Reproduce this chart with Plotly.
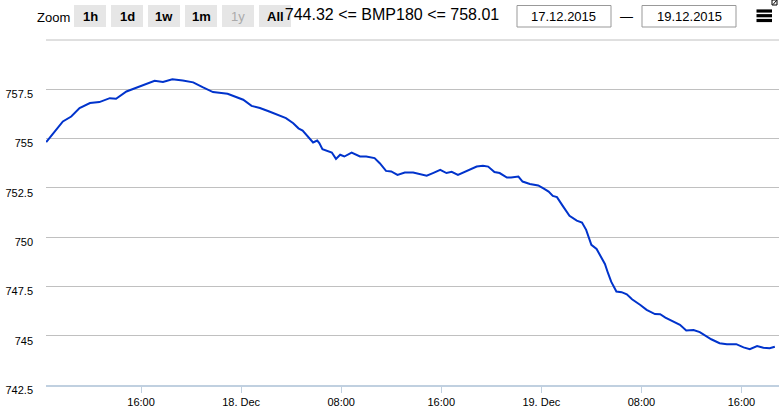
#!/usr/bin/env python
"""
BMP180 Luftdruck, 17.12.2015 - 19.12.2015
Nachbau eines Highstock-Diagramms mit plotly
"""
import plotly.graph_objects as go

zeit = [
    "2015-12-17 08:25", "2015-12-17 09:05", "2015-12-17 09:45", "2015-12-17 10:25",
    "2015-12-17 11:05", "2015-12-17 11:55", "2015-12-17 12:40", "2015-12-17 13:30",
    "2015-12-17 14:00", "2015-12-17 14:50", "2015-12-17 15:35", "2015-12-17 16:25",
    "2015-12-17 17:05", "2015-12-17 17:45", "2015-12-17 18:30", "2015-12-17 19:20",
    "2015-12-17 20:10", "2015-12-17 20:55", "2015-12-17 21:45", "2015-12-17 22:25",
    "2015-12-17 22:55", "2015-12-17 23:20", "2015-12-18 00:10", "2015-12-18 00:50",
    "2015-12-18 01:30", "2015-12-18 02:15", "2015-12-18 02:55", "2015-12-18 03:35",
    "2015-12-18 04:10", "2015-12-18 04:35", "2015-12-18 04:55", "2015-12-18 05:20",
    "2015-12-18 05:45", "2015-12-18 06:05", "2015-12-18 06:15", "2015-12-18 06:30",
    "2015-12-18 07:15", "2015-12-18 07:35", "2015-12-18 07:55", "2015-12-18 08:15",
    "2015-12-18 08:50", "2015-12-18 09:30", "2015-12-18 10:00", "2015-12-18 10:40",
    "2015-12-18 11:05", "2015-12-18 11:35", "2015-12-18 12:00", "2015-12-18 12:30",
    "2015-12-18 13:05", "2015-12-18 13:45", "2015-12-18 14:15", "2015-12-18 14:50",
    "2015-12-18 15:20", "2015-12-18 15:55", "2015-12-18 16:25", "2015-12-18 16:50",
    "2015-12-18 17:20", "2015-12-18 17:55", "2015-12-18 18:25", "2015-12-18 18:50",
    "2015-12-18 19:20", "2015-12-18 19:45", "2015-12-18 20:15", "2015-12-18 20:40",
    "2015-12-18 21:15", "2015-12-18 21:35", "2015-12-18 22:10", "2015-12-18 22:30",
    "2015-12-18 23:05", "2015-12-18 23:45", "2015-12-19 00:10", "2015-12-19 00:35",
    "2015-12-19 00:55", "2015-12-19 01:15", "2015-12-19 01:45", "2015-12-19 02:15",
    "2015-12-19 02:50", "2015-12-19 03:15", "2015-12-19 03:35", "2015-12-19 04:00",
    "2015-12-19 04:25", "2015-12-19 04:50", "2015-12-19 05:05", "2015-12-19 05:20",
    "2015-12-19 05:35", "2015-12-19 06:00", "2015-12-19 06:25", "2015-12-19 06:50",
    "2015-12-19 07:15", "2015-12-19 07:55", "2015-12-19 08:25", "2015-12-19 09:05",
    "2015-12-19 09:30", "2015-12-19 09:55", "2015-12-19 10:35", "2015-12-19 11:05",
    "2015-12-19 11:35", "2015-12-19 12:10", "2015-12-19 12:40", "2015-12-19 13:15",
    "2015-12-19 13:35", "2015-12-19 14:15", "2015-12-19 14:50", "2015-12-19 15:35",
    "2015-12-19 16:10", "2015-12-19 16:40", "2015-12-19 17:15", "2015-12-19 17:45",
    "2015-12-19 18:15", "2015-12-19 18:40",
]
druck = [
    754.82, 755.36, 755.87, 756.12, 756.55, 756.80, 756.85, 757.05,
    757.02, 757.39, 757.56, 757.76, 757.93, 757.87, 758.01, 757.95,
    757.85, 757.61, 757.36, 757.31, 757.27, 757.17, 756.97, 756.66,
    756.55, 756.37, 756.21, 756.04, 755.78, 755.52, 755.41, 755.10,
    754.80, 754.90, 754.77, 754.46, 754.29, 753.97, 754.18, 754.09,
    754.29, 754.09, 754.09, 754.01, 753.75, 753.36, 753.33, 753.16,
    753.28, 753.28, 753.21, 753.12, 753.25, 753.41, 753.25, 753.31,
    753.16, 753.33, 753.45, 753.58, 753.62, 753.58, 753.30, 753.25,
    753.02, 753.02, 753.07, 752.82, 752.70, 752.62, 752.47, 752.31,
    752.09, 752.03, 751.55, 751.08, 750.84, 750.74, 750.37, 749.61,
    749.40, 748.93, 748.64, 748.17, 747.74, 747.24, 747.21, 747.10,
    746.85, 746.56, 746.31, 746.10, 746.09, 745.92, 745.71, 745.55,
    745.26, 745.29, 745.18, 744.95, 744.82, 744.62, 744.57, 744.57,
    744.41, 744.32, 744.48, 744.39, 744.36, 744.44,
]

# Achsenbeschriftung
x_ticks = ["2015-12-17 16:00", "2015-12-18 00:00", "2015-12-18 08:00", "2015-12-18 16:00",
           "2015-12-19 00:00", "2015-12-19 08:00", "2015-12-19 16:00"]
x_labels = ["16:00", "18. Dec", "08:00", "16:00", "19. Dec", "08:00", "16:00"]
y_ticks = [742.5, 745, 747.5, 750, 752.5, 755, 757.5]
y_labels = ["742.5", "745", "747.5", "750", "752.5", "755", "757.5"]
y_max = 760

zoom_buttons = ["1h", "1d", "1w", "1m", "1y", "All"]
von_bis = ["17.12.2015", "19.12.2015"]

W, H = 779, 410
ML, MR, MT, MB = 46, 0, 40, 25
FONT = "Liberation Sans, Arial, sans-serif"


def px(x, y):
    """Pixel (oben links) -> paper Koordinaten"""
    return (x - ML) / (W - ML - MR), (H - MB - y) / (H - MT - MB)


shapes = []
annotations = []

# oberste Gitterlinie (760, ohne Beschriftung) am oberen Rand der Zeichenflaeche
shapes.append(dict(type="line", xref="paper", yref="paper", x0=0, x1=1, y0=1, y1=1,
                   line=dict(color="#c0c0c0", width=1), layer="above"))

# Zoom-Buttons
annotations.append(dict(x=px(53, 0)[0], y=px(0, 17)[1], xref="paper", yref="paper",
                        text="Zoom", showarrow=False, font=dict(size=13, color="#000"),
                        xanchor="center", yanchor="middle"))
for i, b in enumerate(zoom_buttons):
    x0 = 74 + i * 37
    a0, b0 = px(x0, 5)
    a1, b1 = px(x0 + 32, 27)
    shapes.append(dict(type="rect", xref="paper", yref="paper", x0=a0, x1=a1, y0=b1, y1=b0,
                       fillcolor="#e6e6e6", line=dict(width=0), layer="above"))
    annotations.append(dict(x=(a0 + a1) / 2, y=px(0, 16.5)[1], xref="paper", yref="paper",
                            text=b if b == "1y" else f"<b>{b}</b>",
                            showarrow=False, xanchor="center", yanchor="middle",
                            font=dict(size=13, color="#aaaaaa" if b == "1y" else "#000")))

# Datumsfelder
for i, d in enumerate(von_bis):
    x0 = 517 + i * 125
    a0, b0 = px(x0, 5.5)
    a1, b1 = px(x0 + 94, 27)
    shapes.append(dict(type="rect", xref="paper", yref="paper", x0=a0, x1=a1, y0=b1, y1=b0,
                       fillcolor="white", line=dict(color="#999999", width=1), layer="above"))
    annotations.append(dict(x=(a0 + a1) / 2, y=px(0, 16.5)[1], xref="paper", yref="paper",
                            text=d, showarrow=False, xanchor="center", yanchor="middle",
                            font=dict(size=13, color="#000")))
annotations.append(dict(x=px(626, 0)[0], y=px(0, 16.5)[1], xref="paper", yref="paper",
                        text="—", showarrow=False, xanchor="center", yanchor="middle",
                        font=dict(size=13, color="#000")))

# Menue-Symbol
for yy in (11, 15.7, 20.5):
    a0, b0 = px(756.5, yy)
    a1, _ = px(772, yy)
    shapes.append(dict(type="line", xref="paper", yref="paper", x0=a0, x1=a1, y0=b0, y1=b0,
                       line=dict(color="#000", width=3.2), layer="above"))
a0, b0 = px(772, 0)
a1, b1 = px(777, 5)
shapes.append(dict(type="rect", xref="paper", yref="paper", x0=a0, x1=a1, y0=b1, y1=b0,
                   fillcolor="white", line=dict(color="#000", width=1), layer="above"))
shapes.append(dict(type="line", xref="paper", yref="paper", x0=px(773, 0)[0], x1=px(776.5, 0)[0],
                   y0=px(0, 4.5)[1], y1=px(0, 0.5)[1], line=dict(color="#000", width=1),
                   layer="above"))

fig = go.Figure(go.Scatter(
    x=zeit, y=druck, mode="lines", name="BMP180",
    line=dict(color="#0033cc", width=2),
))

fig.update_layout(
    width=W, height=H,
    margin=dict(l=ML, r=MR, t=MT, b=MB),
    paper_bgcolor="white", plot_bgcolor="white",
    font=dict(family=FONT, size=11, color="#000"),
    showlegend=False,
    title=dict(text=f"{min(druck):.2f} <= BMP180 <= {max(druck):.2f}",
               x=392 / W, y=1 - 14 / H, xref="container",
               xanchor="center", yanchor="middle",
               font=dict(size=16, color="#000", family=FONT)),
    shapes=shapes,
    annotations=annotations,
)
fig.update_xaxes(
    type="date",
    range=["2015-12-17 08:24", "2015-12-19 19:00"],
    tickvals=x_ticks, ticktext=x_labels,
    showgrid=False, zeroline=False,
    showline=True, linecolor="#c0d0e0", linewidth=2,
    ticks="outside", ticklen=6, tickwidth=1, tickcolor="#c0d0e0",
    tickfont=dict(size=11, color="#000"),
)
fig.update_yaxes(
    range=[742.5, y_max],
    tickvals=y_ticks, ticktext=y_labels,
    showgrid=True, gridcolor="#c0c0c0", gridwidth=1,
    zeroline=False, showline=False, ticks="",
    ticklabelstandoff=12, ticklabelshift=5,
    tickfont=dict(size=11, color="#000"),
)

# Seitenrand des Browsers entfernen, damit die Grafik bei 0,0 beginnt
fig.write_html("out.html", config={"displayModeBar": False},
               post_script="document.body.style.margin='0px';")
